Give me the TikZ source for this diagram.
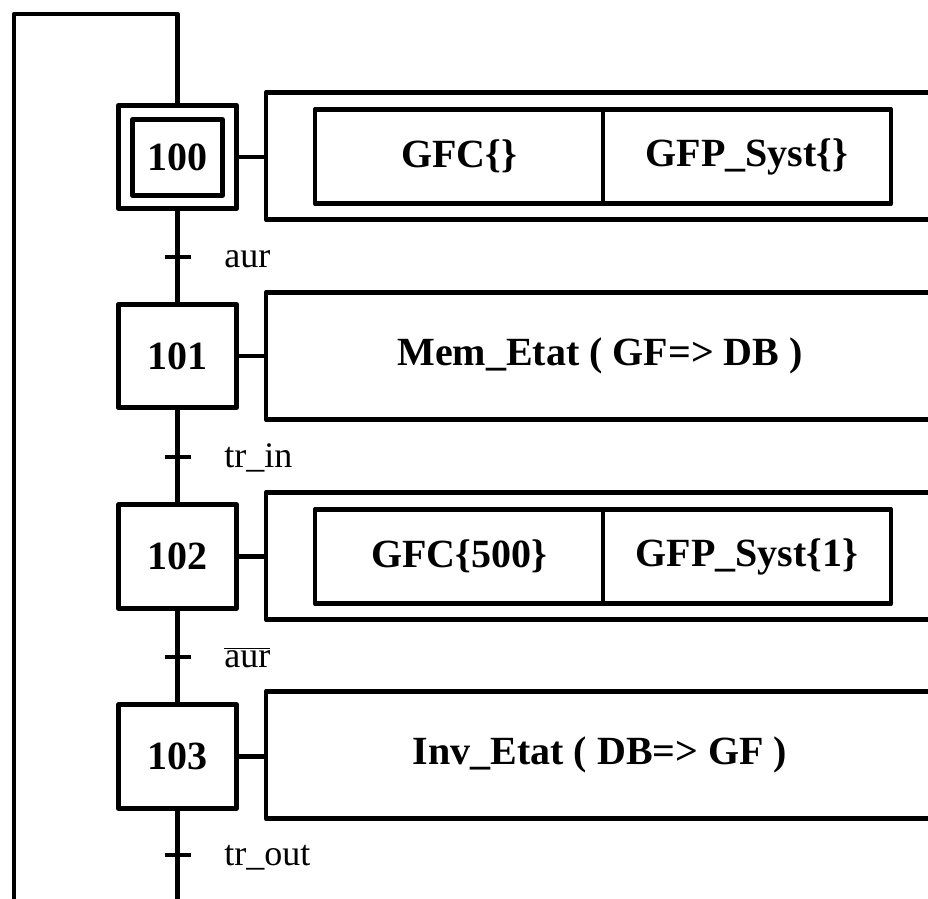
\documentclass[tikz,border=0pt]{standalone}
\usepackage{fontspec}
\setmainfont{Liberation Serif}
\begin{document}
\begin{tikzpicture}[x=1pt,y=-1pt,line width=4.6pt,line join=round,
  stepbox/.style={draw,minimum width=118.5pt,minimum height=103.5pt,inner sep=0pt,font=\fontsize{40}{44}\selectfont\bfseries},
  innerstep/.style={draw,minimum width=89.5pt,minimum height=76.5pt,inner sep=0pt},
  actbox/.style={draw,minimum width=668pt,minimum height=127.5pt,inner sep=0pt,font=\fontsize{40}{44}\selectfont\bfseries},
  cellbox/.style={draw,minimum width=288pt,minimum height=94.5pt,inner sep=0pt,font=\fontsize{40}{44}\selectfont\bfseries},
  translabel/.style={anchor=base west,inner sep=0pt,font=\fontsize{36}{40}\selectfont},
  bar/.style={line width=4.6pt}]
\useasboundingbox (0,0) rectangle (928,898);
\clip (0,0) rectangle (928,898);
% steps
\node[stepbox] (s100) at (177.5,157) {};
\node[innerstep] (s100i) at (177.5,157.5) {};
\node[font=\fontsize{40}{44}\selectfont\bfseries,inner sep=0pt] (n100) at (177.5,157) {100};
\node[stepbox] (s101) at (177.5,356) {101};
\node[stepbox] (s102) at (177.5,556.5) {102};
\node[stepbox] (s103) at (177.5,756.5) {103};
% actions
\node[actbox] (a100) at (600,156) {};
\node[cellbox] (c1a) at (459,156.5) {GFC\{\}};
\node[cellbox] (c1b) at (747,156.5) {GFP\_Syst\{\}};
\node[actbox] (a101) at (600,356) {Mem\_Etat ( GF=> DB )};
\node[actbox] (a102) at (600,556) {};
\node[cellbox] (c2a) at (459,556.5) {GFC\{500\}};
\node[cellbox] (c2b) at (747,556.5) {GFP\_Syst\{1\}};
\node[actbox] (a103) at (600,755) {Inv\_Etat ( DB=> GF )};
% step-action links
\draw (s100.east) -- (a100.west |- s100.east);
\draw (s101.east) -- (a101.west |- s101.east);
\draw (s102.east) -- (a102.west |- s102.east);
\draw (s103.east) -- (a103.west |- s103.east);
% transitions
\coordinate (t1) at (177.5,257);
\coordinate (t2) at (177.5,457);
\coordinate (t3) at (177.5,657);
\coordinate (t4) at (177.5,855);
\draw (s100.south) -- (s101.north);
\draw (s101.south) -- (s102.north);
\draw (s102.south) -- (s103.north);
\coordinate (b1) at (177.5,910);
\coordinate (b0) at (14,910);
\coordinate (lt) at (14,14);
\coordinate (rt) at (177.5,14);
\draw (s103.south) -- (b1);
\draw (b0) -- (lt) -- (rt) -- (s100.north);
\foreach \t in {t1,t2,t3,t4} \draw[bar] ([xshift=-13pt]\t) -- ([xshift=13pt]\t);
\node[translabel] (l1) at (222,267) {aur};
\node[translabel] (l2) at (222,467) {tr\_in};
\node[translabel] (l3) at (222,667) {$\overline{\mbox{aur}}$};
\node[translabel] (l4) at (222,865) {tr\_out};
\end{tikzpicture}
\end{document}
